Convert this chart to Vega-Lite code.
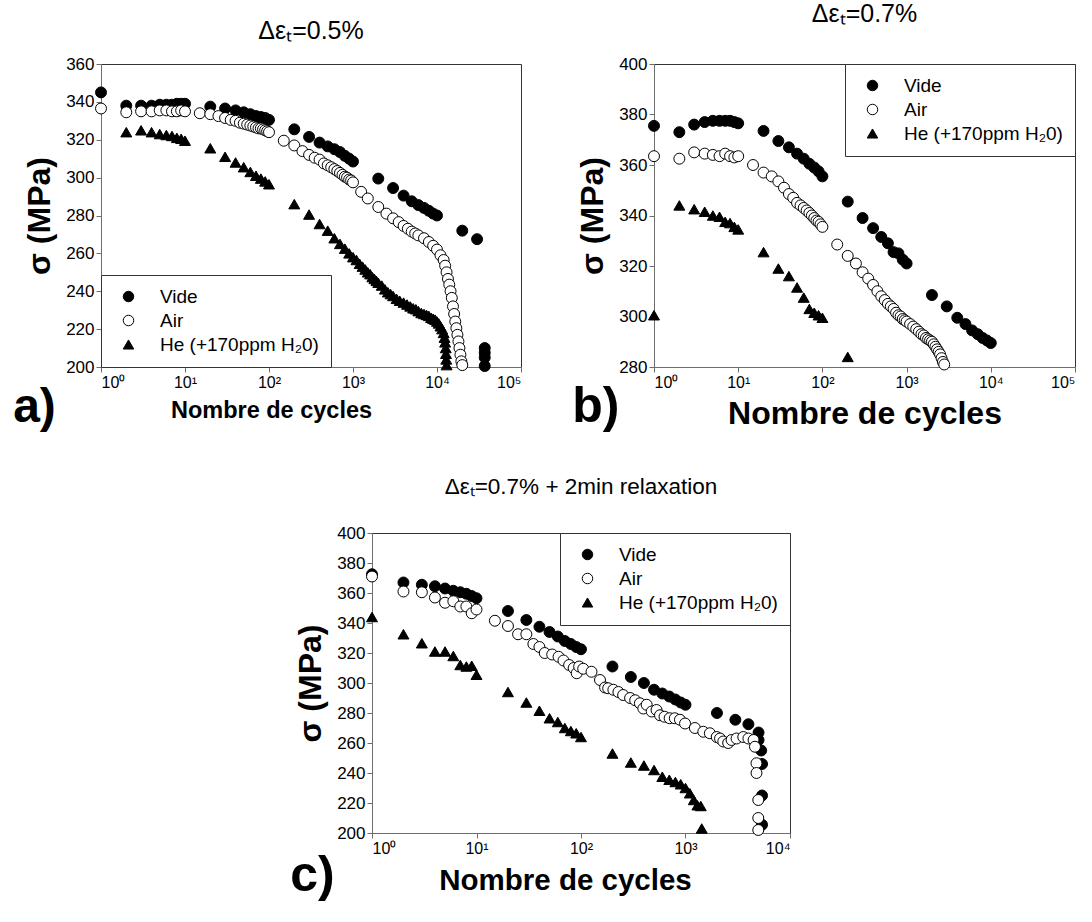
{
  "$schema": "https://vega.github.io/schema/vega-lite/v6.json",
  "background": "white",
  "padding": {"left": 13, "top": 1, "right": 5, "bottom": 5},
  "config": {
    "font": "Liberation Sans",
    "view": {"stroke": "#333333", "strokeWidth": 1},
    "axis": {"grid": false, "domainColor": "#6e6e6e", "tickColor": "#6e6e6e", "labelColor": "black", "titleColor": "black", "labelFont": "Liberation Sans", "titleFont": "Liberation Sans", "labelFontSize": 17, "tickSize": 5, "titleFontWeight": "bold"},
    "legend": {"title": null, "offset": 0, "padding": 12, "strokeColor": "#333333", "fillColor": "white", "labelFontSize": 19, "labelFont": "Liberation Sans", "labelColor": "black", "symbolSize": 110, "rowPadding": 4, "symbolOffset": 6, "labelOffset": 22, "symbolStrokeWidth": 1},
    "title": {"font": "Liberation Sans", "fontWeight": "normal", "color": "black"}
  },
  "resolve": {"scale": {"shape": "independent", "fill": "independent", "stroke": "independent"}, "legend": {"shape": "independent", "fill": "independent", "stroke": "independent"}},
  "datasets": {
    "a": [
      {"g":"Vide","n":1,"s":345},{"g":"Vide","n":2,"s":338},{"g":"Vide","n":3,"s":338},{"g":"Vide","n":4,"s":338},{"g":"Vide","n":5,"s":338.5},{"g":"Vide","n":6,"s":338.5},{"g":"Vide","n":7,"s":338.5},{"g":"Vide","n":8,"s":339},{"g":"Vide","n":9,"s":339},{"g":"Vide","n":10,"s":339},
      {"g":"Vide","n":20,"s":337.5},{"g":"Vide","n":30,"s":336.5},{"g":"Vide","n":40,"s":335.5},{"g":"Vide","n":50,"s":334.5},{"g":"Vide","n":60,"s":333.5},{"g":"Vide","n":70,"s":332.5},{"g":"Vide","n":80,"s":332},{"g":"Vide","n":90,"s":331.5},{"g":"Vide","n":100,"s":330.5},
      {"g":"Vide","n":200,"s":325.5},{"g":"Vide","n":300,"s":321.5},{"g":"Vide","n":400,"s":318.5},{"g":"Vide","n":500,"s":316.5},{"g":"Vide","n":600,"s":315},{"g":"Vide","n":700,"s":313.5},{"g":"Vide","n":800,"s":311.5},{"g":"Vide","n":900,"s":310},{"g":"Vide","n":1000,"s":308.5},
      {"g":"Vide","n":2000,"s":299.5},{"g":"Vide","n":3000,"s":294.5},{"g":"Vide","n":4000,"s":290.5},{"g":"Vide","n":5000,"s":287.5},{"g":"Vide","n":6000,"s":285.5},{"g":"Vide","n":7000,"s":284},{"g":"Vide","n":8000,"s":282.5},{"g":"Vide","n":9000,"s":281},{"g":"Vide","n":10000,"s":280},
      {"g":"Vide","n":20000,"s":272},{"g":"Vide","n":30000,"s":267.5},{"g":"Vide","n":37000,"s":210},{"g":"Vide","n":37000,"s":207.5},{"g":"Vide","n":37000,"s":205},{"g":"Vide","n":37000,"s":200.5},
      {"g":"Air","n":1,"s":336.5},{"g":"Air","n":2,"s":334.5},{"g":"Air","n":3,"s":335},{"g":"Air","n":4,"s":335},{"g":"Air","n":5,"s":335.5},{"g":"Air","n":6,"s":335.5},{"g":"Air","n":7,"s":335},{"g":"Air","n":8,"s":335},{"g":"Air","n":9,"s":335.5},{"g":"Air","n":10,"s":335},
      {"g":"Air","n":15,"s":334},{"g":"Air","n":20,"s":333.5},{"g":"Air","n":25,"s":332.5},{"g":"Air","n":30,"s":331.5},{"g":"Air","n":35,"s":330.5},{"g":"Air","n":40,"s":330},{"g":"Air","n":45,"s":329},{"g":"Air","n":50,"s":328.5},{"g":"Air","n":55,"s":328},{"g":"Air","n":60,"s":327.5},{"g":"Air","n":65,"s":327},{"g":"Air","n":70,"s":326.5},{"g":"Air","n":75,"s":326},{"g":"Air","n":80,"s":326},{"g":"Air","n":85,"s":325.5},{"g":"Air","n":90,"s":325},{"g":"Air","n":95,"s":324.5},{"g":"Air","n":100,"s":324},
      {"g":"Air","n":150,"s":319.5},{"g":"Air","n":200,"s":317},{"g":"Air","n":250,"s":314},{"g":"Air","n":300,"s":312},{"g":"Air","n":350,"s":310.5},{"g":"Air","n":400,"s":309.5},{"g":"Air","n":450,"s":307.5},{"g":"Air","n":500,"s":306.5},{"g":"Air","n":550,"s":305.5},{"g":"Air","n":600,"s":304.5},{"g":"Air","n":650,"s":303.5},{"g":"Air","n":700,"s":302.5},{"g":"Air","n":750,"s":301.5},{"g":"Air","n":800,"s":300.5},{"g":"Air","n":850,"s":300},{"g":"Air","n":900,"s":299},{"g":"Air","n":950,"s":298.5},{"g":"Air","n":1000,"s":297.5},
      {"g":"Air","n":1250,"s":292.5},{"g":"Air","n":1500,"s":289},{"g":"Air","n":2000,"s":284.5},{"g":"Air","n":2500,"s":281},{"g":"Air","n":3000,"s":278.5},{"g":"Air","n":3500,"s":276.5},{"g":"Air","n":4000,"s":274.5},{"g":"Air","n":4500,"s":273},{"g":"Air","n":5000,"s":271.5},{"g":"Air","n":5500,"s":270.5},{"g":"Air","n":6000,"s":269.5},{"g":"Air","n":7000,"s":268},{"g":"Air","n":8000,"s":266},{"g":"Air","n":9000,"s":264},{"g":"Air","n":10000,"s":262},
      {"g":"Air","n":11000,"s":259},{"g":"Air","n":12000,"s":256.5},{"g":"Air","n":12500,"s":253.5},{"g":"Air","n":13000,"s":250},{"g":"Air","n":13500,"s":246.5},{"g":"Air","n":14000,"s":243.5},{"g":"Air","n":14500,"s":240},{"g":"Air","n":15000,"s":236.5},{"g":"Air","n":15500,"s":232},{"g":"Air","n":16000,"s":228},{"g":"Air","n":16500,"s":224},{"g":"Air","n":17000,"s":220.5},{"g":"Air","n":17500,"s":217},{"g":"Air","n":18000,"s":213.5},{"g":"Air","n":18500,"s":210},{"g":"Air","n":19000,"s":206.5},{"g":"Air","n":19500,"s":203},{"g":"Air","n":20000,"s":201},
      {"g":"He","n":2,"s":324},{"g":"He","n":3,"s":325},{"g":"He","n":4,"s":324},{"g":"He","n":5,"s":323},{"g":"He","n":6,"s":322.5},{"g":"He","n":7,"s":322},{"g":"He","n":8,"s":321},{"g":"He","n":9,"s":320.5},{"g":"He","n":10,"s":319.5},
      {"g":"He","n":20,"s":315.5},{"g":"He","n":30,"s":311},{"g":"He","n":40,"s":308},{"g":"He","n":50,"s":305.5},{"g":"He","n":60,"s":303},{"g":"He","n":70,"s":301},{"g":"He","n":80,"s":299.5},{"g":"He","n":90,"s":298},{"g":"He","n":100,"s":296.5},
      {"g":"He","n":200,"s":286},{"g":"He","n":300,"s":280.5},{"g":"He","n":400,"s":275.5},{"g":"He","n":500,"s":272},{"g":"He","n":600,"s":268},{"g":"He","n":700,"s":265},{"g":"He","n":800,"s":262.5},{"g":"He","n":900,"s":260},{"g":"He","n":1000,"s":258},
      {"g":"He","n":1100,"s":256.5},{"g":"He","n":1200,"s":254.5},{"g":"He","n":1300,"s":253},{"g":"He","n":1400,"s":251.5},{"g":"He","n":1500,"s":250},{"g":"He","n":1600,"s":249},{"g":"He","n":1700,"s":247.5},{"g":"He","n":1800,"s":246.5},{"g":"He","n":1900,"s":245.5},{"g":"He","n":2000,"s":244.5},
      {"g":"He","n":2200,"s":243},{"g":"He","n":2400,"s":241},{"g":"He","n":2600,"s":239.5},{"g":"He","n":2800,"s":238.5},{"g":"He","n":3000,"s":237.5},{"g":"He","n":3300,"s":236},{"g":"He","n":3600,"s":235},{"g":"He","n":4000,"s":234},{"g":"He","n":4400,"s":233},{"g":"He","n":4800,"s":232},{"g":"He","n":5200,"s":231},{"g":"He","n":5600,"s":230.5},{"g":"He","n":6000,"s":229.5},{"g":"He","n":6500,"s":228.5},{"g":"He","n":7000,"s":228},{"g":"He","n":7500,"s":227.5},{"g":"He","n":8000,"s":227},{"g":"He","n":8500,"s":226},{"g":"He","n":9000,"s":225.5},{"g":"He","n":9500,"s":225},{"g":"He","n":10000,"s":224},
      {"g":"He","n":10500,"s":223},{"g":"He","n":11000,"s":221.5},{"g":"He","n":11500,"s":220},{"g":"He","n":12000,"s":218},{"g":"He","n":12300,"s":215.5},{"g":"He","n":12500,"s":213},{"g":"He","n":12700,"s":210},{"g":"He","n":12800,"s":207},{"g":"He","n":12900,"s":204},{"g":"He","n":13000,"s":201}
    ],
    "b": [
      {"g":"Vide","n":1,"s":375.5},{"g":"Vide","n":2,"s":373},{"g":"Vide","n":3,"s":376},{"g":"Vide","n":4,"s":377},{"g":"Vide","n":5,"s":377.5},{"g":"Vide","n":6,"s":377.5},{"g":"Vide","n":7,"s":377.5},{"g":"Vide","n":8,"s":377.5},{"g":"Vide","n":9,"s":377},{"g":"Vide","n":10,"s":376.5},
      {"g":"Vide","n":20,"s":373.5},{"g":"Vide","n":30,"s":369.5},{"g":"Vide","n":40,"s":367},{"g":"Vide","n":50,"s":364.5},{"g":"Vide","n":60,"s":362.5},{"g":"Vide","n":70,"s":360.5},{"g":"Vide","n":80,"s":359},{"g":"Vide","n":90,"s":357.5},{"g":"Vide","n":100,"s":355.5},
      {"g":"Vide","n":200,"s":345.5},{"g":"Vide","n":300,"s":339},{"g":"Vide","n":400,"s":335},{"g":"Vide","n":500,"s":331.5},{"g":"Vide","n":600,"s":329},{"g":"Vide","n":700,"s":325.5},{"g":"Vide","n":800,"s":325},{"g":"Vide","n":900,"s":322.5},{"g":"Vide","n":1000,"s":321},
      {"g":"Vide","n":2000,"s":308.5},{"g":"Vide","n":3000,"s":304},{"g":"Vide","n":4000,"s":299.5},{"g":"Vide","n":5000,"s":297},{"g":"Vide","n":6000,"s":294.5},{"g":"Vide","n":7000,"s":293},{"g":"Vide","n":8000,"s":291.5},{"g":"Vide","n":9000,"s":290.5},{"g":"Vide","n":10000,"s":289.5},
      {"g":"Air","n":1,"s":363.5},{"g":"Air","n":2,"s":362.5},{"g":"Air","n":3,"s":365},{"g":"Air","n":4,"s":364.5},{"g":"Air","n":5,"s":364},{"g":"Air","n":6,"s":363.5},{"g":"Air","n":7,"s":364.5},{"g":"Air","n":8,"s":363.5},{"g":"Air","n":9,"s":363},{"g":"Air","n":10,"s":363.5},
      {"g":"Air","n":15,"s":360},{"g":"Air","n":20,"s":357},{"g":"Air","n":25,"s":355.5},{"g":"Air","n":30,"s":353.5},{"g":"Air","n":35,"s":351},{"g":"Air","n":40,"s":348.5},{"g":"Air","n":45,"s":347},{"g":"Air","n":50,"s":345},{"g":"Air","n":55,"s":344},{"g":"Air","n":60,"s":343},{"g":"Air","n":65,"s":342},{"g":"Air","n":70,"s":341},{"g":"Air","n":75,"s":340},{"g":"Air","n":80,"s":339},{"g":"Air","n":85,"s":338},{"g":"Air","n":90,"s":337.5},{"g":"Air","n":95,"s":336.5},{"g":"Air","n":100,"s":335.5},
      {"g":"Air","n":150,"s":328.5},{"g":"Air","n":200,"s":324},{"g":"Air","n":250,"s":321},{"g":"Air","n":300,"s":317.5},{"g":"Air","n":350,"s":315},{"g":"Air","n":400,"s":312.5},{"g":"Air","n":450,"s":310},{"g":"Air","n":500,"s":308},{"g":"Air","n":550,"s":306.5},{"g":"Air","n":600,"s":305},{"g":"Air","n":650,"s":304},{"g":"Air","n":700,"s":303},{"g":"Air","n":750,"s":301.5},{"g":"Air","n":800,"s":300.5},{"g":"Air","n":850,"s":300},{"g":"Air","n":900,"s":299},{"g":"Air","n":950,"s":298.5},{"g":"Air","n":1000,"s":298},
      {"g":"Air","n":1100,"s":297},{"g":"Air","n":1200,"s":296},{"g":"Air","n":1300,"s":295},{"g":"Air","n":1400,"s":294},{"g":"Air","n":1500,"s":293},{"g":"Air","n":1600,"s":292.5},{"g":"Air","n":1700,"s":291.5},{"g":"Air","n":1800,"s":291},{"g":"Air","n":1900,"s":290.5},{"g":"Air","n":2000,"s":290},{"g":"Air","n":2100,"s":289},{"g":"Air","n":2200,"s":288},{"g":"Air","n":2300,"s":287},{"g":"Air","n":2400,"s":286},{"g":"Air","n":2500,"s":285},{"g":"Air","n":2600,"s":283.5},{"g":"Air","n":2700,"s":282},{"g":"Air","n":2800,"s":281},
      {"g":"He","n":1,"s":300.5},{"g":"He","n":2,"s":344},{"g":"He","n":3,"s":342.5},{"g":"He","n":4,"s":341.5},{"g":"He","n":5,"s":340},{"g":"He","n":6,"s":339.5},{"g":"He","n":7,"s":337.5},{"g":"He","n":8,"s":337},{"g":"He","n":9,"s":335.5},{"g":"He","n":10,"s":334.5},
      {"g":"He","n":20,"s":325.5},{"g":"He","n":30,"s":319},{"g":"He","n":40,"s":316},{"g":"He","n":50,"s":311.5},{"g":"He","n":60,"s":307.5},{"g":"He","n":70,"s":303},{"g":"He","n":80,"s":301.5},{"g":"He","n":90,"s":300.5},{"g":"He","n":100,"s":299.5},{"g":"He","n":200,"s":284}
    ],
    "c": [
      {"g":"Vide","n":1,"s":372.5},{"g":"Vide","n":2,"s":367},{"g":"Vide","n":3,"s":365.5},{"g":"Vide","n":4,"s":364.5},{"g":"Vide","n":5,"s":363},{"g":"Vide","n":6,"s":361.5},{"g":"Vide","n":7,"s":360.5},{"g":"Vide","n":8,"s":359.5},{"g":"Vide","n":9,"s":358},{"g":"Vide","n":10,"s":356.5},
      {"g":"Vide","n":20,"s":348},{"g":"Vide","n":30,"s":342},{"g":"Vide","n":40,"s":337.5},{"g":"Vide","n":50,"s":334},{"g":"Vide","n":60,"s":331},{"g":"Vide","n":70,"s":328},{"g":"Vide","n":80,"s":326},{"g":"Vide","n":90,"s":324},{"g":"Vide","n":100,"s":322.5},
      {"g":"Vide","n":200,"s":311},{"g":"Vide","n":300,"s":304},{"g":"Vide","n":400,"s":300},{"g":"Vide","n":500,"s":295.5},{"g":"Vide","n":600,"s":293},{"g":"Vide","n":700,"s":291},{"g":"Vide","n":800,"s":289},{"g":"Vide","n":900,"s":287},{"g":"Vide","n":1000,"s":285.5},
      {"g":"Vide","n":2000,"s":280},{"g":"Vide","n":3000,"s":275.5},{"g":"Vide","n":4000,"s":272.5},{"g":"Vide","n":5000,"s":267},{"g":"Vide","n":5000,"s":262},{"g":"Vide","n":5300,"s":255},{"g":"Vide","n":5400,"s":246},{"g":"Vide","n":5400,"s":225},{"g":"Vide","n":5400,"s":205.5},
      {"g":"Air","n":1,"s":371},{"g":"Air","n":2,"s":361},{"g":"Air","n":3,"s":360.5},{"g":"Air","n":4,"s":357},{"g":"Air","n":5,"s":353.5},{"g":"Air","n":6,"s":354.5},{"g":"Air","n":7,"s":351},{"g":"Air","n":8,"s":351},{"g":"Air","n":9,"s":346.5},{"g":"Air","n":10,"s":349},
      {"g":"Air","n":15,"s":341.5},{"g":"Air","n":20,"s":338},{"g":"Air","n":25,"s":332.5},{"g":"Air","n":30,"s":332.5},{"g":"Air","n":35,"s":326},{"g":"Air","n":40,"s":324},{"g":"Air","n":45,"s":320},{"g":"Air","n":53,"s":319},{"g":"Air","n":61,"s":317.5},{"g":"Air","n":68,"s":315},{"g":"Air","n":77,"s":312},{"g":"Air","n":85,"s":310},{"g":"Air","n":91,"s":306.5},{"g":"Air","n":96,"s":311},
      {"g":"Air","n":105,"s":309.5},{"g":"Air","n":126,"s":307.5},{"g":"Air","n":152,"s":302},{"g":"Air","n":170,"s":297},{"g":"Air","n":182,"s":296.5},{"g":"Air","n":204,"s":295.5},{"g":"Air","n":228,"s":294},{"g":"Air","n":253,"s":292},{"g":"Air","n":295,"s":290},{"g":"Air","n":330,"s":288.5},{"g":"Air","n":366,"s":286.5},{"g":"Air","n":395,"s":283},{"g":"Air","n":425,"s":285.5},{"g":"Air","n":475,"s":281},{"g":"Air","n":528,"s":282},{"g":"Air","n":570,"s":278.5},{"g":"Air","n":630,"s":277.5},{"g":"Air","n":705,"s":276.5},{"g":"Air","n":790,"s":276.5},{"g":"Air","n":885,"s":275.5},{"g":"Air","n":990,"s":273},
      {"g":"Air","n":1230,"s":270},{"g":"Air","n":1480,"s":267.5},{"g":"Air","n":1710,"s":266.5},{"g":"Air","n":1990,"s":264},{"g":"Air","n":2140,"s":263},{"g":"Air","n":2300,"s":261},{"g":"Air","n":2560,"s":260},{"g":"Air","n":2760,"s":262},{"g":"Air","n":3080,"s":263},{"g":"Air","n":3570,"s":264},{"g":"Air","n":4000,"s":263},{"g":"Air","n":4480,"s":262},
      {"g":"Air","n":4620,"s":257.5},{"g":"Air","n":4780,"s":246.5},{"g":"Air","n":4780,"s":240},{"g":"Air","n":4970,"s":222},{"g":"Air","n":4970,"s":210},{"g":"Air","n":4970,"s":202},
      {"g":"He","n":1,"s":344},{"g":"He","n":2,"s":332.5},{"g":"He","n":3,"s":326.5},{"g":"He","n":4,"s":321},{"g":"He","n":5,"s":321},{"g":"He","n":6,"s":318},{"g":"He","n":7,"s":312},{"g":"He","n":8,"s":311},{"g":"He","n":9,"s":311.5},{"g":"He","n":10,"s":305.5},
      {"g":"He","n":20,"s":294},{"g":"He","n":30,"s":287},{"g":"He","n":40,"s":281.5},{"g":"He","n":50,"s":276.5},{"g":"He","n":60,"s":274},{"g":"He","n":70,"s":270},{"g":"He","n":80,"s":268},{"g":"He","n":90,"s":266.5},{"g":"He","n":100,"s":264},
      {"g":"He","n":200,"s":253},{"g":"He","n":300,"s":247},{"g":"He","n":400,"s":245},{"g":"He","n":500,"s":242},{"g":"He","n":600,"s":237.5},{"g":"He","n":700,"s":235.5},{"g":"He","n":800,"s":234},{"g":"He","n":900,"s":232.5},{"g":"He","n":1000,"s":230},
      {"g":"He","n":1100,"s":226.5},{"g":"He","n":1200,"s":222},{"g":"He","n":1300,"s":218.5},{"g":"He","n":1400,"s":218},{"g":"He","n":1430,"s":203}
    ]
  },
  "vconcat": [
    {
      "resolve": {"scale": {"shape": "independent", "fill": "independent", "stroke": "independent"}, "legend": {"shape": "independent", "fill": "independent", "stroke": "independent"}},
      "hconcat": [
        {
          "resolve": {"scale": {"shape": "independent", "fill": "independent", "stroke": "independent"}, "legend": {"shape": "independent", "fill": "independent", "stroke": "independent"}},
          "title": {"text": "a)", "orient": "bottom", "anchor": "start", "fontSize": 48, "fontWeight": "bold", "offset": -38, "dx": -10},
          "vconcat": [
            {
              "title": {"text": "Δεₜ=0.5%", "fontSize": 25, "offset": 11},
              "data": {"name": "a"},
              "width": 420, "height": 303,
              "mark": {"type": "point", "filled": true, "strokeWidth": 1, "opacity": 1, "size": 120},
              "encoding": {
                "x": {"field": "n", "type": "quantitative", "scale": {"type": "log", "domain": [1, 100000]},
                      "axis": {"values": [1, 10, 100, 1000, 10000, 100000], "labelExpr": "'10' + ['⁰','¹','²','³','⁴','⁵'][round(log(datum.value)/LN10)]", "labelFontSize": 16, "title": "Nombre de cycles", "titleFontSize": 23.5, "titlePadding": 8, "titleX": 170}},
                "y": {"field": "s", "type": "quantitative", "scale": {"domain": [200, 360], "nice": false, "zero": false},
                      "axis": {"values": [200, 220, 240, 260, 280, 300, 320, 340, 360], "title": "σ (MPa)", "titleFontSize": 32, "titlePadding": 9}},
                "shape": {"field": "g", "type": "nominal", "scale": {"domain": ["Vide", "Air", "He"], "range": ["circle", "circle", "triangle-up"]},
                          "legend": {"orient": "bottom-left", "labelExpr": "datum.label == 'He' ? 'He (+170ppm H₂0)' : datum.label"}},
                "fill": {"field": "g", "type": "nominal", "scale": {"domain": ["Vide", "Air", "He"], "range": ["black", "white", "black"]},
                         "legend": {"orient": "bottom-left", "labelExpr": "datum.label == 'He' ? 'He (+170ppm H₂0)' : datum.label"}},
                "stroke": {"field": "g", "type": "nominal", "scale": {"domain": ["Vide", "Air", "He"], "range": ["black", "black", "black"]},
                         "legend": {"orient": "bottom-left", "labelExpr": "datum.label == 'He' ? 'He (+170ppm H₂0)' : datum.label"}}
              }
            }
          ]
        },
        {
          "resolve": {"scale": {"shape": "independent", "fill": "independent", "stroke": "independent"}, "legend": {"shape": "independent", "fill": "independent", "stroke": "independent"}},
          "title": {"text": "b)", "orient": "bottom", "anchor": "start", "fontSize": 50, "fontWeight": "bold", "offset": -48, "dx": -4},
          "vconcat": [
            {
              "title": {"text": "Δεₜ=0.7%", "fontSize": 25, "offset": 28},
              "data": {"name": "b"},
              "width": 421, "height": 303,
              "mark": {"type": "point", "filled": true, "strokeWidth": 1, "opacity": 1, "size": 120},
              "encoding": {
                "x": {"field": "n", "type": "quantitative", "scale": {"type": "log", "domain": [1, 100000]},
                      "axis": {"values": [1, 10, 100, 1000, 10000, 100000], "labelExpr": "'10' + ['⁰','¹','²','³','⁴','⁵'][round(log(datum.value)/LN10)]", "labelFontSize": 16, "title": "Nombre de cycles", "titleFontSize": 32, "titlePadding": 8}},
                "y": {"field": "s", "type": "quantitative", "scale": {"domain": [280, 400], "nice": false, "zero": false},
                      "axis": {"values": [280, 300, 320, 340, 360, 380, 400], "title": "σ (MPa)", "titleFontSize": 32, "titlePadding": 9}},
                "shape": {"field": "g", "type": "nominal", "scale": {"domain": ["Vide", "Air", "He"], "range": ["circle", "circle", "triangle-up"]},
                          "legend": {"orient": "top-right", "labelExpr": "datum.label == 'He' ? 'He (+170ppm H₂0)' : datum.label"}},
                "fill": {"field": "g", "type": "nominal", "scale": {"domain": ["Vide", "Air", "He"], "range": ["black", "white", "black"]},
                         "legend": {"orient": "top-right", "labelExpr": "datum.label == 'He' ? 'He (+170ppm H₂0)' : datum.label"}},
                "stroke": {"field": "g", "type": "nominal", "scale": {"domain": ["Vide", "Air", "He"], "range": ["black", "black", "black"]},
                         "legend": {"orient": "top-right", "labelExpr": "datum.label == 'He' ? 'He (+170ppm H₂0)' : datum.label"}}
              }
            }
          ]
        }
      ],
      "spacing": 50
    },
    {
      "resolve": {"scale": {"shape": "independent", "fill": "independent", "stroke": "independent"}, "legend": {"shape": "independent", "fill": "independent", "stroke": "independent"}},
      "hconcat": [
        {
          "data": {"values": []},
          "width": 189, "height": 10,
          "view": {"stroke": null},
          "mark": {"type": "point", "opacity": 0}
        },
        {
          "resolve": {"scale": {"shape": "independent", "fill": "independent", "stroke": "independent"}, "legend": {"shape": "independent", "fill": "independent", "stroke": "independent"}},
          "title": {"text": "c)", "orient": "bottom", "anchor": "start", "fontSize": 50, "fontWeight": "bold", "offset": -44, "dx": -4},
          "vconcat": [
            {
              "title": {"text": "Δεₜ=0.7% + 2min relaxation", "fontSize": 22.5, "offset": 26},
              "data": {"name": "c"},
              "width": 418, "height": 300,
              "mark": {"type": "point", "filled": true, "strokeWidth": 1, "opacity": 1, "size": 120},
              "encoding": {
                "x": {"field": "n", "type": "quantitative", "scale": {"type": "log", "domain": [1, 10000]},
                      "axis": {"values": [1, 10, 100, 1000, 10000], "labelExpr": "'10' + ['⁰','¹','²','³','⁴','⁵'][round(log(datum.value)/LN10)]", "labelFontSize": 16, "title": "Nombre de cycles", "titleFontSize": 29.5, "titlePadding": 10, "titleX": 193}},
                "y": {"field": "s", "type": "quantitative", "scale": {"domain": [200, 400], "nice": false, "zero": false},
                      "axis": {"values": [200, 220, 240, 260, 280, 300, 320, 340, 360, 380, 400], "title": "σ (MPa)", "titleFontSize": 32, "titlePadding": 9}},
                "shape": {"field": "g", "type": "nominal", "scale": {"domain": ["Vide", "Air", "He"], "range": ["circle", "circle", "triangle-up"]},
                          "legend": {"orient": "top-right", "labelExpr": "datum.label == 'He' ? 'He (+170ppm H₂0)' : datum.label"}},
                "fill": {"field": "g", "type": "nominal", "scale": {"domain": ["Vide", "Air", "He"], "range": ["black", "white", "black"]},
                         "legend": {"orient": "top-right", "labelExpr": "datum.label == 'He' ? 'He (+170ppm H₂0)' : datum.label"}},
                "stroke": {"field": "g", "type": "nominal", "scale": {"domain": ["Vide", "Air", "He"], "range": ["black", "black", "black"]},
                         "legend": {"orient": "top-right", "labelExpr": "datum.label == 'He' ? 'He (+170ppm H₂0)' : datum.label"}}
              }
            }
          ]
        }
      ],
      "spacing": 0
    }
  ],
  "spacing": 43
}
